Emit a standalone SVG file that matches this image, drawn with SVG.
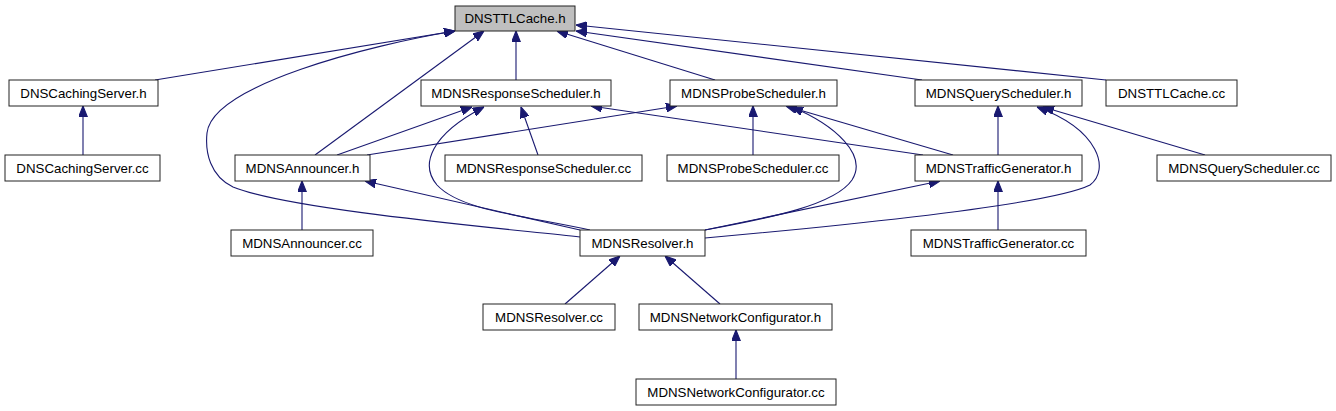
<svg xmlns="http://www.w3.org/2000/svg" width="1336" height="411" viewBox="0 0 1336 411">
<style>
.n rect{fill:#fff;stroke:#222;stroke-width:1}
.n text{font-family:"Liberation Sans",Arial,sans-serif;font-size:13.3px;text-anchor:middle;fill:#000}
#root rect{fill:#bfbfbf}
.e path{fill:none;stroke:#191970;stroke-width:1.1;marker-end:url(#ah)}
</style>
<defs>
<marker id="ah" markerUnits="userSpaceOnUse" viewBox="0 0 10 8" refX="10" refY="4" markerWidth="11" markerHeight="9" orient="auto">
<path d="M0,0 L10,4 L0,8 z" fill="#191970" stroke="#191970"/>
</marker>
</defs>
<rect width="1336" height="411" fill="#fff"/>
<g class="e" id="edges">
<path d="M155,80 L455,31"/>
<path d="M83,155 L83,106"/>
<path d="M315,155 L484,31"/>
<path d="M580,237 C500,228 290,210 233,187 C210,176 205,152 207,133 C212,85 370,45 455,31"/>
<path d="M516,80 L516,31"/>
<path d="M715,80 L557,31"/>
<path d="M922,80 L576,31"/>
<path d="M1106,80 L576,25"/>
<path d="M337,155 L472,107"/>
<path d="M367,155 L677,106"/>
<path d="M590,230 C520,215 460,210 437,185 C420,165 430,135 484,107"/>
<path d="M538,155 L521,107"/>
<path d="M923,155 L591,106"/>
<path d="M753,155 L753,106"/>
<path d="M953,155 L786,106"/>
<path d="M705,230 C770,218 835,205 852,180 C868,155 835,125 792,107"/>
<path d="M998,155 L998,106"/>
<path d="M1205,155 L1043,107"/>
<path d="M705,238 C850,225 1050,205 1090,185 C1110,170 1100,130 1037,107"/>
<path d="M302,230 L302,181"/>
<path d="M580,230 L365,181"/>
<path d="M998,230 L998,181"/>
<path d="M705,230 L940,181"/>
<path d="M565,304 L620,256"/>
<path d="M720,304 L665,256"/>
<path d="M736,379 L736,330"/>
</g>
<g class="n" id="root"><rect x="455" y="6" width="120" height="25"/><text x="515" y="23">DNSTTLCache.h</text></g>
<g class="n" id="n1"><rect x="9" y="80" width="149" height="26"/><text x="83.5" y="97.5">DNSCachingServer.h</text></g>
<g class="n" id="n2"><rect x="421" y="80" width="190" height="26"/><text x="516" y="97.5">MDNSResponseScheduler.h</text></g>
<g class="n" id="n3"><rect x="670" y="80" width="167" height="26"/><text x="753.5" y="97.5">MDNSProbeScheduler.h</text></g>
<g class="n" id="n4"><rect x="915" y="80" width="167" height="26"/><text x="998.5" y="97.5">MDNSQueryScheduler.h</text></g>
<g class="n" id="n5"><rect x="1106" y="80" width="131" height="26"/><text x="1171.5" y="97.5">DNSTTLCache.cc</text></g>
<g class="n" id="n6"><rect x="5" y="155" width="155" height="26"/><text x="82.5" y="172.5">DNSCachingServer.cc</text></g>
<g class="n" id="n7"><rect x="235" y="155" width="135" height="26"/><text x="302.5" y="172.5">MDNSAnnouncer.h</text></g>
<g class="n" id="n8"><rect x="445" y="155" width="197" height="26"/><text x="543.5" y="172.5">MDNSResponseScheduler.cc</text></g>
<g class="n" id="n9"><rect x="667" y="155" width="172" height="26"/><text x="753" y="172.5">MDNSProbeScheduler.cc</text></g>
<g class="n" id="n10"><rect x="915" y="155" width="167" height="26"/><text x="998.5" y="172.5">MDNSTrafficGenerator.h</text></g>
<g class="n" id="n11"><rect x="1157" y="155" width="174" height="26"/><text x="1244" y="172.5">MDNSQueryScheduler.cc</text></g>
<g class="n" id="n12"><rect x="231" y="230" width="142" height="26"/><text x="302" y="247.5">MDNSAnnouncer.cc</text></g>
<g class="n" id="n13"><rect x="580" y="230" width="125" height="26"/><text x="642.5" y="247.5">MDNSResolver.h</text></g>
<g class="n" id="n14"><rect x="911" y="230" width="175" height="26"/><text x="998.5" y="247.5">MDNSTrafficGenerator.cc</text></g>
<g class="n" id="n15"><rect x="483" y="304" width="132" height="26"/><text x="549" y="321.5">MDNSResolver.cc</text></g>
<g class="n" id="n16"><rect x="639" y="304" width="193" height="26"/><text x="735.5" y="321.5">MDNSNetworkConfigurator.h</text></g>
<g class="n" id="n17"><rect x="636" y="379" width="200" height="26"/><text x="736" y="396.5">MDNSNetworkConfigurator.cc</text></g>
</svg>
